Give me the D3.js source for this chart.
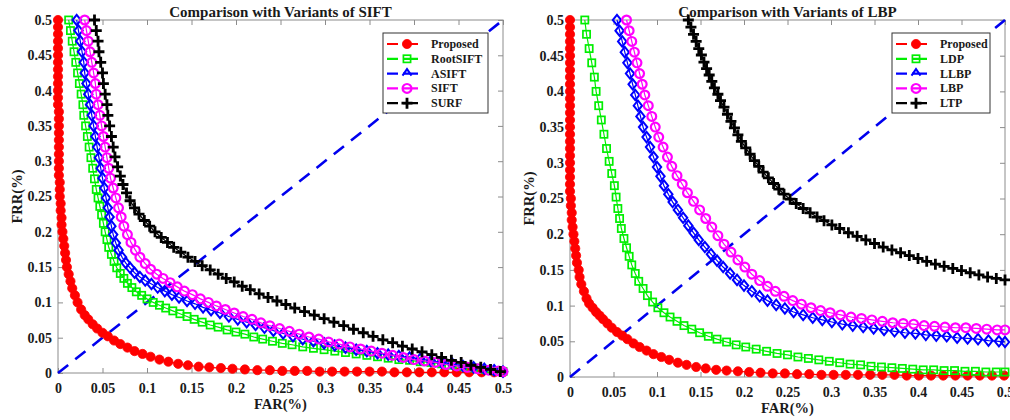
<!DOCTYPE html>
<html>
<head>
<meta charset="utf-8">
<script src="https://cdn.jsdelivr.net/npm/d3@7"></script>
<style>
  body { margin: 0; background: #fff; }
  svg text { font-family: 'Liberation Serif', 'Times New Roman', serif; font-weight: bold; fill: #1a1a1a; }
</style>
</head>
<body>
<div class="container"></div>
<script>
// values, [FAR, FRR]
var tickValues = [0, 0.05, 0.1, 0.15, 0.2, 0.25, 0.3, 0.35, 0.4, 0.45, 0.5]
var tickLabels = ['0', '0.05', '0.1', '0.15', '0.2', '0.25', '0.3', '0.35', '0.4', '0.45', '0.5']

var siftTitle = 'Comparison with Variants of SIFT'
var lbpTitle = 'Comparison with Variants of LBP'
var siftNames = ['Proposed', 'RootSIFT', 'ASIFT', 'SIFT', 'SURF']
var lbpNames = ['Proposed', 'LDP', 'LLBP', 'LBP', 'LTP']

var siftProposed = [
  [0, .500], [0, .490], [0, .480], [0, .470], [0, .460], [0, .450], [0, .440], [0, .430], [0, .420], [0, .410],
  [0, .400], [0, .390], [0, .380], [.001, .370], [.001, .360], [.001, .350], [.001, .340], [.001, .330], [.001, .320],
  [.001, .310], [.001, .300], [.001, .290], [.001, .280], [.002, .270], [.002, .260], [.002, .250], [.003, .240],
  [.003, .230], [.004, .220], [.004, .210], [.005, .200], [.006, .190], [.007, .180], [.008, .170], [.009, .160],
  [.010, .150], [.012, .140], [.014, .130], [.016, .120], [.019, .110], [.022, .100], [.026, .090], [.030, .082],
  [.034, .076], [.039, .069], [.044, .063], [.050, .057], [.056, .052], [.063, .046], [.070, .041], [.078, .036],
  [.086, .031], [.095, .027], [.104, .023], [.114, .019], [.124, .016], [.135, .013], [.146, .011], [.158, .009],
  [.170, .008], [.183, .007], [.196, .006], [.210, .005], [.224, .004], [.238, .004], [.252, .003], [.266, .003],
  [.280, .003], [.294, .002], [.308, .002], [.322, .002], [.336, .002], [.350, .002], [.364, .002], [.378, .001],
  [.392, .001], [.406, .001], [.420, .001], [.434, .001], [.448, .001], [.462, .001], [.476, .001], [.490, .001],
  [.500, .001]
]
var rootSift = [
  [.012, .500], [.014, .485], [.016, .470], [.018, .455], [.020, .440], [.022, .425], [.024, .410], [.026, .395],
  [.028, .380], [.029, .365], [.031, .350], [.033, .335], [.035, .320], [.037, .305], [.039, .290], [.041, .275],
  [.043, .260], [.045, .248], [.047, .236], [.049, .224], [.051, .212], [.053, .200], [.055, .189], [.057, .178],
  [.060, .168], [.063, .158], [.066, .149], [.070, .141], [.074, .134], [.078, .127], [.083, .121], [.088, .115],
  [.094, .110], [.100, .105], [.107, .100], [.114, .096], [.121, .092], [.129, .088], [.137, .084], [.145, .080],
  [.153, .076], [.162, .072], [.171, .068], [.180, .065], [.190, .061], [.200, .058], [.210, .055], [.220, .051],
  [.230, .048], [.241, .045], [.252, .042], [.263, .040], [.275, .037], [.287, .035], [.299, .033], [.311, .031],
  [.323, .029], [.335, .027], [.347, .025], [.359, .023], [.371, .021], [.383, .019], [.395, .018], [.407, .016],
  [.419, .015], [.431, .013], [.443, .011], [.455, .009], [.467, .007], [.479, .005], [.490, .003], [.500, .002]
]
var asift = [
  [.021, .500], [.023, .485], [.025, .470], [.027, .455], [.029, .440], [.030, .425], [.032, .410], [.034, .395],
  [.036, .380], [.038, .365], [.040, .350], [.042, .335], [.044, .320], [.046, .305], [.048, .290], [.050, .276],
  [.052, .262], [.054, .248], [.056, .234], [.058, .221], [.060, .208], [.062, .196], [.065, .184], [.068, .174],
  [.072, .164], [.076, .156], [.081, .149], [.086, .142], [.092, .136], [.098, .131], [.105, .126], [.112, .121],
  [.120, .116], [.128, .111], [.136, .107], [.145, .102], [.154, .098], [.163, .093], [.172, .089], [.182, .085],
  [.192, .080], [.202, .076], [.212, .072], [.222, .068], [.232, .064], [.242, .060], [.253, .056], [.264, .052],
  [.275, .048], [.287, .045], [.299, .042], [.311, .039], [.323, .036], [.335, .033], [.347, .031], [.359, .028],
  [.371, .026], [.383, .024], [.395, .022], [.407, .020], [.419, .017], [.431, .015], [.443, .013], [.455, .010],
  [.467, .008], [.479, .006], [.490, .004], [.500, .002]
]
var sift = [
  [.030, .500], [.032, .485], [.034, .470], [.036, .455], [.038, .440], [.040, .425], [.042, .410], [.043, .395],
  [.045, .380], [.047, .365], [.049, .350], [.051, .335], [.053, .320], [.055, .305], [.057, .290], [.059, .276],
  [.062, .262], [.065, .248], [.068, .234], [.071, .221], [.074, .208], [.078, .196], [.082, .185], [.087, .174],
  [.092, .164], [.098, .155], [.104, .147], [.111, .140], [.118, .134], [.126, .128], [.134, .122], [.142, .116],
  [.151, .111], [.160, .105], [.169, .100], [.178, .095], [.188, .090], [.198, .085], [.208, .080], [.218, .076],
  [.228, .071], [.238, .067], [.249, .063], [.260, .059], [.271, .055], [.282, .051], [.293, .048], [.304, .044],
  [.316, .041], [.328, .037], [.340, .034], [.352, .031], [.364, .028], [.376, .025], [.388, .022], [.400, .019],
  [.412, .017], [.424, .015], [.436, .012], [.448, .010], [.460, .008], [.472, .006], [.484, .004], [.495, .003],
  [.500, .002]
]
var surf = [
  [.041, .500], [.043, .485], [.045, .470], [.046, .455], [.048, .440], [.050, .425], [.051, .410], [.053, .395],
  [.055, .380], [.056, .365], [.058, .350], [.060, .335], [.062, .320], [.064, .306], [.067, .292], [.070, .279],
  [.073, .267], [.077, .255], [.081, .244], [.086, .234], [.091, .225], [.097, .216], [.103, .208], [.109, .200],
  [.116, .192], [.123, .185], [.130, .178], [.138, .171], [.146, .164], [.154, .158], [.162, .152], [.171, .146],
  [.180, .140], [.189, .134], [.198, .129], [.207, .123], [.216, .118], [.226, .112], [.236, .107], [.246, .102],
  [.256, .097], [.266, .092], [.277, .087], [.288, .082], [.299, .077], [.310, .072], [.321, .067], [.332, .062],
  [.343, .057], [.354, .052], [.365, .047], [.376, .043], [.387, .038], [.398, .034], [.409, .030], [.420, .026],
  [.431, .022], [.442, .018], [.453, .015], [.464, .011], [.475, .008], [.486, .005], [.497, .002]
]

var lbpProposed = [
  [0, .500], [0, .490], [0, .480], [0, .470], [0, .460], [0, .450], [0, .440], [0, .430], [0, .420], [0, .410],
  [0, .400], [0, .390], [0, .380], [0, .370], [0, .360], [0, .350], [0, .340], [0, .330], [0, .320], [0, .310],
  [0, .300], [0, .290], [0, .280], [0, .270], [0, .260], [.001, .250], [.001, .240], [.002, .230], [.002, .220],
  [.003, .210], [.004, .200], [.005, .190], [.006, .180], [.007, .170], [.008, .160], [.010, .150], [.011, .140],
  [.013, .130], [.016, .120], [.019, .110], [.022, .103], [.026, .097], [.030, .091], [.034, .086], [.038, .081],
  [.043, .075], [.048, .069], [.054, .063], [.060, .058], [.066, .053], [.073, .047], [.080, .042], [.088, .037],
  [.096, .032], [.105, .028], [.114, .024], [.124, .020], [.134, .017], [.145, .014], [.156, .012], [.168, .010],
  [.180, .009], [.193, .008], [.206, .007], [.219, .006], [.233, .005], [.247, .005], [.261, .004], [.275, .004],
  [.289, .003], [.303, .003], [.317, .003], [.331, .003], [.345, .003], [.359, .003], [.373, .003], [.387, .002],
  [.401, .002], [.415, .002], [.429, .002], [.443, .002], [.457, .002], [.471, .002], [.485, .002], [.499, .002]
]
var ldp = [
  [.017, .500], [.019, .480], [.022, .460], [.025, .440], [.028, .420], [.030, .400], [.033, .380], [.036, .360],
  [.039, .340], [.042, .320], [.045, .302], [.048, .285], [.051, .268], [.053, .252], [.055, .236], [.057, .222],
  [.059, .208], [.062, .194], [.065, .181], [.068, .169], [.071, .157], [.075, .145], [.079, .134], [.084, .124],
  [.089, .114], [.095, .105], [.101, .097], [.108, .090], [.115, .084], [.123, .078], [.131, .072], [.140, .067],
  [.149, .062], [.159, .057], [.169, .053], [.180, .049], [.191, .045], [.202, .042], [.214, .039], [.226, .036],
  [.238, .033], [.250, .031], [.262, .028], [.274, .026], [.286, .024], [.298, .022], [.310, .020], [.322, .018],
  [.334, .017], [.346, .015], [.358, .014], [.370, .013], [.382, .012], [.394, .011], [.406, .010], [.418, .010],
  [.430, .009], [.442, .009], [.454, .008], [.466, .008], [.478, .007], [.490, .007], [.500, .007]
]
var llbp = [
  [.054, .500], [.057, .485], [.060, .470], [.063, .455], [.066, .440], [.069, .425], [.072, .410], [.075, .395],
  [.078, .380], [.081, .365], [.084, .350], [.088, .336], [.092, .322], [.096, .308], [.100, .294], [.104, .281],
  [.108, .268], [.113, .256], [.118, .245], [.124, .234], [.130, .223], [.136, .212], [.142, .202], [.148, .192],
  [.155, .182], [.162, .172], [.169, .163], [.176, .154], [.184, .145], [.192, .136], [.200, .128], [.209, .120],
  [.218, .113], [.227, .107], [.237, .101], [.247, .096], [.257, .091], [.268, .087], [.279, .083], [.290, .080],
  [.301, .077], [.313, .074], [.325, .072], [.337, .070], [.349, .068], [.361, .066], [.373, .064], [.385, .062],
  [.397, .061], [.409, .059], [.421, .058], [.433, .057], [.445, .055], [.457, .054], [.469, .053], [.481, .051],
  [.493, .050], [.500, .049]
]
var lbp = [
  [.065, .500], [.068, .485], [.071, .470], [.074, .455], [.077, .440], [.080, .425], [.083, .410], [.086, .395],
  [.090, .380], [.094, .365], [.098, .350], [.102, .336], [.107, .322], [.112, .308], [.117, .295], [.123, .282],
  [.129, .270], [.135, .258], [.142, .246], [.149, .234], [.156, .222], [.163, .210], [.170, .198], [.177, .186],
  [.185, .175], [.193, .164], [.201, .154], [.209, .144], [.218, .135], [.227, .127], [.236, .120], [.246, .113],
  [.256, .107], [.266, .102], [.277, .097], [.288, .093], [.299, .090], [.311, .087], [.323, .084], [.335, .082],
  [.347, .080], [.359, .078], [.371, .076], [.383, .075], [.395, .074], [.407, .072], [.419, .071], [.431, .070],
  [.443, .069], [.455, .069], [.467, .068], [.479, .067], [.491, .066], [.500, .066]
]
var ltp = [
  [.136, .500], [.139, .490], [.142, .480], [.145, .470], [.148, .460], [.151, .451], [.154, .441], [.157, .432],
  [.160, .423], [.163, .414], [.166, .405], [.170, .396], [.173, .387], [.177, .378], [.181, .368], [.185, .358],
  [.189, .349], [.193, .339], [.197, .330], [.202, .321], [.207, .312], [.212, .303], [.217, .295], [.222, .287],
  [.228, .279], [.234, .271], [.240, .263], [.246, .256], [.253, .249], [.260, .243], [.268, .236], [.276, .230],
  [.284, .224], [.292, .219], [.301, .213], [.310, .208], [.320, .202], [.330, .197], [.340, .192], [.350, .187],
  [.360, .182], [.370, .178], [.380, .174], [.390, .170], [.400, .166], [.410, .162], [.420, .158], [.430, .155],
  [.440, .152], [.450, .149], [.460, .146], [.470, .143], [.480, .140], [.490, .138], [.500, .136]
]

var diagonal = [[0, 0], [0.5, 0.5]]

// marker styles, shared by both panels
var styles = [
  { color: '#ff0000', marker: 'dot' },
  { color: '#00ee00', marker: 'square' },
  { color: '#0000ff', marker: 'diamond' },
  { color: '#ff00ff', marker: 'circle' },
  { color: '#000000', marker: 'plus' }
]

var panels = [
  { title: siftTitle, names: siftNames, series: [siftProposed, rootSift, asift, sift, surf],
    left: 58, top: 20, width: 445, height: 353, legend: { x: 383, y: 33, w: 105, h: 80 } },
  { title: lbpTitle, names: lbpNames, series: [lbpProposed, ldp, llbp, lbp, ltp],
    left: 570, top: 20, width: 435, height: 357, legend: { x: 892, y: 33, w: 98, h: 80 } }
]

var svg = d3.select('.container')
            .append('svg')
            .attr('width', 1010)
            .attr('height', 420)

svg.append('rect')
   .attr('width', 1010)
   .attr('height', 420)
   .attr('fill', '#fff')

panels.forEach(drawPanel)

function drawMarker (sel, marker, color) {
  if (marker === 'dot') {
    sel.append('circle').attr('r', 4.6).attr('fill', color).attr('stroke', color).attr('stroke-width', 0.8)
  } else if (marker === 'circle') {
    sel.append('circle').attr('r', 4.4).attr('fill', 'none').attr('stroke', color).attr('stroke-width', 2.2)
  } else if (marker === 'square') {
    sel.append('rect').attr('x', -3.6).attr('y', -3.6).attr('width', 7.2).attr('height', 7.2)
       .attr('fill', 'none').attr('stroke', color).attr('stroke-width', 1.7)
  } else if (marker === 'diamond') {
    sel.append('path').attr('d', 'M0,-5.2L4.2,0L0,5.2L-4.2,0Z')
       .attr('fill', 'none').attr('stroke', color).attr('stroke-width', 2)
  } else if (marker === 'plus') {
    sel.append('path').attr('d', 'M-5.5,0H5.5M0,-5.5V5.5')
       .attr('fill', 'none').attr('stroke', color).attr('stroke-width', 2.8)
  } else if (marker === 'chevron') {
    sel.append('path').attr('d', 'M-4.5,2L0,-4.5L4.5,2')
       .attr('fill', 'none').attr('stroke', color).attr('stroke-width', 2)
  }
}

function drawPanel (p) {
  var g = svg.append('g')
             .attr('transform', 'translate(' + p.left + ',' + p.top + ')')

  var x = d3.scaleLinear().domain([0, 0.5]).range([0, p.width])
  var y = d3.scaleLinear().domain([0, 0.5]).range([p.height, 0])
  var fmt = function (d, i) { return tickLabels[i] }

  // inward ticks on all four sides, like the MATLAB box
  var axes = [
    { axis: d3.axisBottom(x).tickFormat(fmt), t: [0, p.height] },
    { axis: d3.axisLeft(y).tickFormat(fmt), t: [0, 0] },
    { axis: d3.axisTop(x).tickFormat(''), t: [0, 0] },
    { axis: d3.axisRight(y).tickFormat(''), t: [p.width, 0] }
  ]
  axes.forEach(function (a, i) {
    var ag = g.append('g')
              .attr('transform', 'translate(' + a.t[0] + ',' + a.t[1] + ')')
              .call(a.axis.tickValues(tickValues).tickSize(-5).tickPadding(i === 0 ? 10 : 6))
    ag.select('.domain').remove()
    ag.selectAll('.tick line').attr('stroke', '#8c8c8c')
    ag.selectAll('.tick text')
      .attr('font-family', null)
      .style('font-size', '14px')
  })

  g.append('rect')
   .attr('width', p.width)
   .attr('height', p.height)
   .attr('fill', 'none')
   .attr('stroke', '#8c8c8c')
   .attr('stroke-width', 1)

  var line = d3.line()
               .x(function (d) { return x(d[0]) })
               .y(function (d) { return y(d[1]) })

  g.append('path')
   .attr('d', line(diagonal))
   .attr('fill', 'none')
   .attr('stroke', '#0000ee')
   .attr('stroke-width', 2.6)
   .attr('stroke-dasharray', '13,9')

  p.series.forEach(function (data, i) {
    var st = styles[i]
    g.append('path')
     .attr('d', line(data))
     .attr('fill', 'none')
     .attr('stroke', st.color)
     .attr('stroke-width', 1.2)

    var pts = g.append('g')
               .selectAll('g')
               .data(data)
               .enter()
               .append('g')
               .attr('transform', function (d) {
                 return 'translate(' + x(d[0]) + ',' + y(d[1]) + ')'
               })
    drawMarker(pts, st.marker, st.color)
  })

  // title and axis labels
  svg.append('text')
     .attr('x', p.left + p.width / 2)
     .attr('y', p.top - 3)
     .attr('text-anchor', 'middle')
     .style('font-size', '15px')
     .text(p.title)

  svg.append('text')
     .attr('x', p.left + p.width / 2)
     .attr('y', p.top + p.height + 36)
     .attr('text-anchor', 'middle')
     .style('font-size', '14.5px')
     .text('FAR(%)')

  svg.append('text')
     .attr('transform', 'translate(' + (p.left - 36) + ',' + (p.top + p.height / 2) + ') rotate(-90)')
     .attr('text-anchor', 'middle')
     .style('font-size', '14.5px')
     .text('FRR(%)')

  // legend
  var L = p.legend
  var lg = svg.append('g')
              .attr('transform', 'translate(' + L.x + ',' + L.y + ')')
  lg.append('rect')
    .attr('width', L.w)
    .attr('height', L.h)
    .attr('fill', '#fff')
    .attr('stroke', '#333')
    .attr('stroke-width', 1)

  var rows = lg.selectAll('.legendLine')
               .data(p.names)
               .enter()
               .append('g')
               .attr('class', 'legendLine')
               .attr('transform', function (d, i) {
                 return 'translate(0,' + (11 + i * 14.8) + ')'
               })

  rows.append('path')
      .attr('d', 'M4,0H15M20,0H35')
      .attr('stroke', function (d, i) { return styles[i].color })
      .attr('stroke-width', 2.2)

  rows.each(function (d, i) {
    var m = d3.select(this).append('g').attr('transform', 'translate(24,0)')
    var mk = styles[i].marker === 'diamond' ? 'chevron' : styles[i].marker
    drawMarker(m, mk, styles[i].color)
  })

  rows.append('text')
      .attr('x', 48)
      .attr('y', 4)
      .style('font-size', '12px')
      .text(function (d) { return d })
}
</script>
</body>
</html>
